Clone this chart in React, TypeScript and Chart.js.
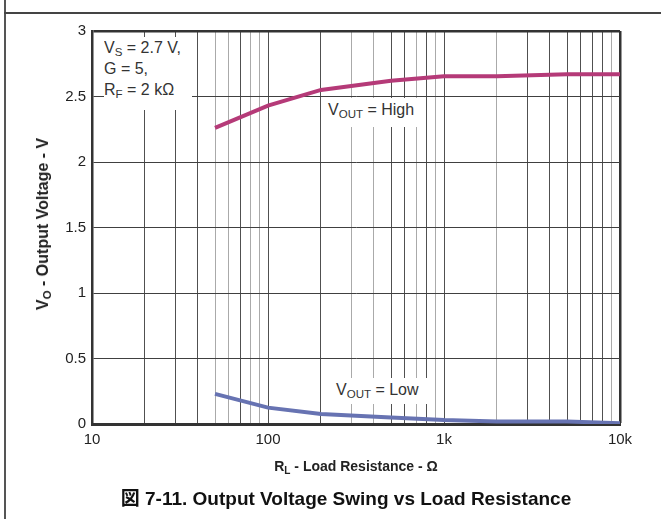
import React, { useEffect, useRef } from 'react';
import { Chart, registerables } from 'chart.js';

Chart.register(...registerables);

// ---- data ----
const RL_OHMS = [50, 100, 200, 500, 1000, 2000, 5000, 10000];
const VOUT_HIGH = [2.26, 2.43, 2.55, 2.62, 2.655, 2.655, 2.67, 2.67];
const VOUT_LOW = [0.23, 0.125, 0.076, 0.05, 0.03, 0.02, 0.02, 0.005];

const X_TICKS = [
  10, 20, 30, 40, 50, 60, 70, 80, 90,
  100, 200, 300, 400, 500, 600, 700, 800, 900,
  1000, 2000, 3000, 4000, 5000, 6000, 7000, 8000, 9000,
  10000,
];
const X_TICK_LABELS: Record<number, string> = { 10: '10', 100: '100', 1000: '1k', 10000: '10k' };
const X_LIGHT_GRID = [50, 60, 80, 90, 300, 400, 700, 900, 2000, 9000];
const Y_TICKS = [0, 0.5, 1, 1.5, 2, 2.5, 3];

const FONT = '"Liberation Sans", Arial, Helvetica, "Noto Sans CJK JP", sans-serif';
const TEXT_COLOR = '#333';
const HIGH_COLOR = '#b53a78';
const LOW_COLOR = '#6773b2';

const subStyle: React.CSSProperties = {
  fontSize: '0.72em',
  verticalAlign: 'baseline',
  position: 'relative',
  top: '0.3em',
  lineHeight: 0,
};

export default function App() {
  const canvasRef = useRef<HTMLCanvasElement | null>(null);

  useEffect(() => {
    const canvas = canvasRef.current;
    if (!canvas) return;
    const chart = new Chart(canvas, {
      type: 'line',
      data: {
        datasets: [
          {
            label: 'VOUT = High',
            data: RL_OHMS.map((x, i) => ({ x, y: VOUT_HIGH[i] })),
            borderColor: HIGH_COLOR,
            borderWidth: 4,
            pointRadius: 0,
            tension: 0,
          },
          {
            label: 'VOUT = Low',
            data: RL_OHMS.map((x, i) => ({ x, y: VOUT_LOW[i] })),
            borderColor: LOW_COLOR,
            borderWidth: 4,
            pointRadius: 0,
            tension: 0,
          },
        ],
      },
      options: {
        animation: false,
        responsive: false,
        maintainAspectRatio: false,
        layout: { padding: { left: 0, top: 31, right: 41, bottom: 0 } },
        plugins: { legend: { display: false }, tooltip: { enabled: false }, title: { display: false } },
        scales: {
          x: {
            type: 'logarithmic',
            min: 10,
            max: 10000,
            afterBuildTicks: (s: any) => {
              s.ticks = X_TICKS.map((v) => ({ value: v }));
            },
            afterFit: (s: any) => {
              s.height = 95;
            },
            grid: {
              drawTicks: false,
              color: (ctx: any) => {
                const v = ctx.tick && ctx.tick.value;
                if (v === 10000) return '#333';
                return X_LIGHT_GRID.includes(v) ? '#aaaaaa' : '#505050';
              },
              lineWidth: (ctx: any) => {
                const v = ctx.tick && ctx.tick.value;
                return v === 10000 ? 2.5 : 1;
              },
            },
            border: { display: true, color: '#333', width: 3 },
            ticks: {
              autoSkip: false,
              maxRotation: 0,
              minRotation: 0,
              padding: 7,
              color: '#222',
              font: { family: FONT, size: 15 },
              callback: (v: any) => X_TICK_LABELS[Number(v)] ?? '',
            },
          },
          y: {
            type: 'linear',
            min: 0,
            max: 3,
            afterBuildTicks: (s: any) => {
              s.ticks = Y_TICKS.map((v) => ({ value: v }));
            },
            afterFit: (s: any) => {
              s.width = 92;
            },
            grid: {
              drawTicks: false,
              color: (ctx: any) => (ctx.tick && ctx.tick.value === 3 ? '#333' : '#404040'),
              lineWidth: (ctx: any) => (ctx.tick && ctx.tick.value === 3 ? 2.5 : 1),
            },
            border: { display: true, color: '#333', width: 2.5 },
            ticks: {
              padding: 6,
              color: '#222',
              font: { family: FONT, size: 15 },
              callback: (v: any) => String(v),
            },
          },
        },
      },
    });
    return () => chart.destroy();
  }, []);

  const abs = (s: React.CSSProperties): React.CSSProperties => ({ position: 'absolute', ...s });

  return (
    <div style={{ position: 'absolute', left: 0, top: 0, width: 661, height: 519, background: '#fff', overflow: 'hidden', fontFamily: FONT, color: TEXT_COLOR }}>
      <canvas ref={canvasRef} width={661} height={519} style={{ position: 'absolute', left: 0, top: 0, width: 661, height: 519, display: 'block' }} />

      {/* frame lines */}
      <div style={abs({ left: 4, top: 0, width: 2, height: 519, background: '#555' })} />
      <div style={abs({ left: 4, top: 12, width: 657, height: 2, background: '#444' })} />

      {/* conditions box */}
      <div style={abs({ left: 104, top: 37, width: 88, height: 73, background: '#fff', fontSize: 16, lineHeight: '21px', whiteSpace: 'nowrap' })}>
        <div>V<span style={subStyle}>S</span> = 2.7 V,</div>
        <div>G = 5,</div>
        <div>R<span style={subStyle}>F</span> = 2 kΩ</div>
      </div>

      {/* curve labels */}
      <div style={abs({ left: 327, top: 98, width: 92, height: 29, background: '#fff', fontSize: 16, lineHeight: '24px', whiteSpace: 'nowrap', paddingLeft: 1 })}>
        V<span style={subStyle}>OUT</span> = High
      </div>
      <div style={abs({ left: 332, top: 378, width: 93, height: 26, background: '#fff', fontSize: 16, lineHeight: '24px', whiteSpace: 'nowrap', paddingLeft: 4 })}>
        V<span style={subStyle}>OUT</span> = Low
      </div>

      {/* axis titles */}
      <div style={abs({ left: 92, width: 528, top: 457, textAlign: 'center', fontSize: 14, fontWeight: 'bold', lineHeight: '18px', color: '#222', whiteSpace: 'nowrap' })}>
        R<span style={subStyle}>L</span> - Load Resistance - Ω
      </div>
      <div style={abs({ left: 43, top: 224, transform: 'translate(-50%, -50%) rotate(-90deg)', fontSize: 16, fontWeight: 'bold', lineHeight: '18px', color: '#222', whiteSpace: 'nowrap' })}>
        V<span style={subStyle}>O</span> - Output Voltage - V
      </div>

      {/* caption */}
      <div style={abs({ left: 0, width: 692, top: 487, textAlign: 'center', fontSize: 19, fontWeight: 'bold', lineHeight: '24px', color: '#111', whiteSpace: 'nowrap' })}>
        図 7-11. Output Voltage Swing vs Load Resistance
      </div>
    </div>
  );
}
